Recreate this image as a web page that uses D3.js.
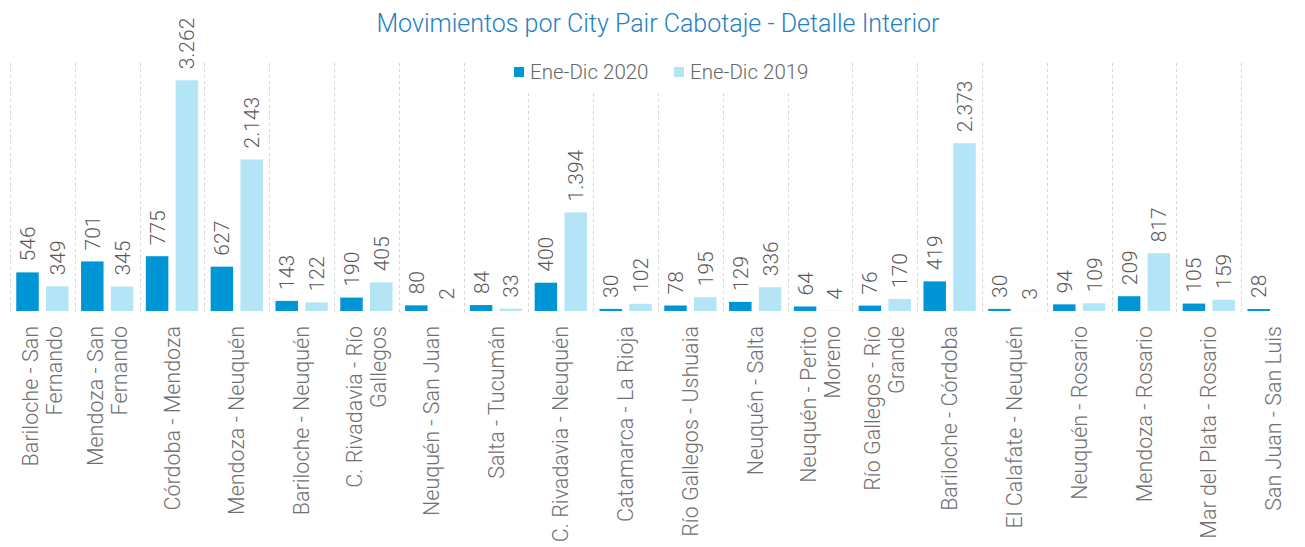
<!DOCTYPE html>
<html>
<head>
<meta charset="utf-8">
<script src="https://cdn.jsdelivr.net/npm/d3@7"></script>
<style>
    body { margin: 0; background: #fff; overflow: hidden; }
    svg { display: block; font-family: Roboto, "Open Sans", sans-serif; font-weight: 300; }
</style>
</head>
<body>
<div id="chart"></div>
<script>
// "|" marks where the axis label breaks onto a second line
var categories = [
    "Bariloche - San|Fernando", "Mendoza - San|Fernando", "Córdoba - Mendoza", "Mendoza - Neuquén",
    "Bariloche - Neuquén", "C. Rivadavia - Río|Gallegos", "Neuquén - San Juan", "Salta - Tucumán",
    "C. Rivadavia - Neuquén", "Catamarca - La Rioja", "Río Gallegos - Ushuaia", "Neuquén - Salta",
    "Neuquén - Perito|Moreno", "Río Gallegos - Río|Grande", "Bariloche - Córdoba", "El Calafate - Neuquén",
    "Neuquén - Rosario", "Mendoza - Rosario", "Mar del Plata - Rosario", "San Juan - San Luis"
];
var seriesNames = ["Ene-Dic 2020", "Ene-Dic 2019"];
var values2020 = [546, 701, 775, 627, 143, 190, 80, 84, 400, 30, 78, 129, 64, 76, 419, 30, 94, 209, 105, 28];
var values2019 = [349, 345, 3262, 2143, 122, 405, 2, 33, 1394, 102, 195, 336, 4, 170, 2373, 3, 109, 817, 159, null];
var seriesColors = ["#0096d6", "#b3e5f6"];

var width = 1305, height = 547;
// the last category runs past the right edge of the picture
var plot = {left: 10, right: 1306, top: 63, bottom: 311};

var svg = d3.select("#chart").append("svg")
    .attr("width", width)
    .attr("height", height);

var x0 = d3.scaleBand().domain(categories).range([plot.left, plot.right]);
var x1 = d3.scaleBand().domain(seriesNames).range([0, x0.bandwidth()])
    .paddingInner(0.245).paddingOuter(0.21);
var y = d3.scaleLinear().domain([0, 3507]).range([plot.bottom, plot.top]);

var fmt = function(v) { return d3.format(",")(v).replace(/,/g, "."); };

// dashed separators between the categories
var seps = categories.map(function(c) { return x0(c); });
svg.append("g").selectAll("line")
    .data(seps)
    .enter().append("line")
        .attr("x1", function(d) { return Math.round(d) + 0.5; })
        .attr("x2", function(d) { return Math.round(d) + 0.5; })
        .attr("y1", plot.top)
        .attr("y2", plot.bottom + 1)
        .attr("stroke", "#d6d6d6")
        .attr("stroke-dasharray", "3,3");

// rows: one entry per bar
var rows = [];
categories.forEach(function(c, i) {
    [values2020[i], values2019[i]].forEach(function(v, s) {
        if (v !== null) rows.push({cat: c, series: seriesNames[s], value: v, s: s});
    });
});

var bars = svg.append("g");
bars.selectAll("rect")
    .data(rows)
    .enter().append("rect")
        .attr("x", function(d) { return x0(d.cat) + x1(d.series); })
        .attr("y", function(d) { return y(d.value); })
        .attr("width", x1.bandwidth())
        .attr("height", function(d) { return plot.bottom - y(d.value); })
        .attr("fill", function(d) { return seriesColors[d.s]; });

bars.selectAll("text")
    .data(rows)
    .enter().append("text")
        .attr("transform", function(d) {
            var cx = x0(d.cat) + x1(d.series) + x1.bandwidth() / 2;
            return "translate(" + cx + "," + (y(d.value) - 11) + ") rotate(-90)";
        })
        .attr("dy", "0.36em")
        .attr("font-size", "21px")
        .attr("fill", "#595959")
        .text(function(d) { return fmt(d.value); });

// category labels, rotated
var catLabels = svg.append("g").selectAll("text")
    .data(categories)
    .enter().append("text")
        .attr("transform", function(d) {
            return "translate(" + (x0(d) + x0.bandwidth() / 2) + ",326) rotate(-90)";
        })
        .attr("text-anchor", "end")
        .attr("font-size", "21.5px")
        .attr("fill", "#707070");

catLabels.each(function(d) {
    var lines = d.split("|");
    var el = d3.select(this);
    lines.forEach(function(l, i) {
        el.append("tspan")
            .attr("x", 0)
            .attr("dy", i === 0 ? (0.35 - (lines.length - 1) * 0.56) + "em" : "1.12em")
            .text(l);
    });
});

// legend
var legendBox = svg.append("g");
legendBox.append("rect")
    .attr("x", 470).attr("y", 58)
    .attr("width", 375).attr("height", 33)
    .attr("fill", "#fff");
var legendX = [514, 674];
var legend = legendBox.selectAll("g")
    .data(seriesNames)
    .enter().append("g")
        .attr("transform", function(d, i) { return "translate(" + legendX[i] + ",67)"; });
legend.append("rect")
    .attr("width", 10).attr("height", 10)
    .attr("fill", function(d, i) { return seriesColors[i]; });
legend.append("text")
    .attr("x", 16)
    .attr("y", 5)
    .attr("dy", "0.36em")
    .attr("font-size", "20.5px")
    .attr("fill", "#666")
    .text(function(d) { return d; });

// title
svg.append("text")
    .attr("x", 658)
    .attr("y", 32)
    .attr("text-anchor", "middle")
    .attr("font-size", "25px")
    .attr("fill", "#1f80c3")
    .text("Movimientos por City Pair Cabotaje - Detalle Interior");
</script>
</body>
</html>
